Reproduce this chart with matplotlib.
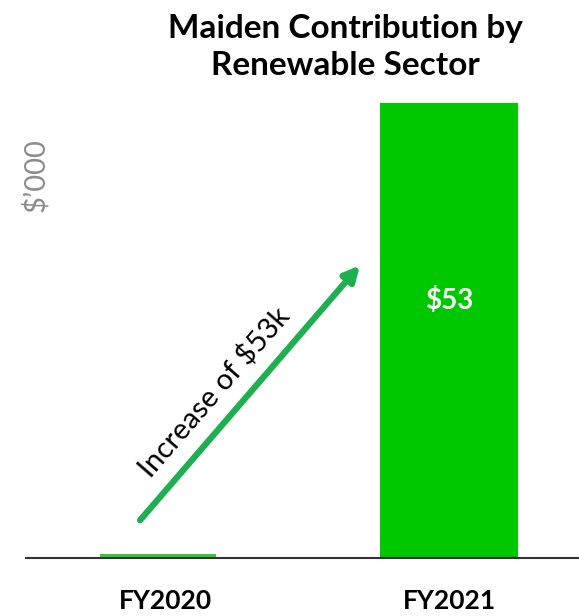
import numpy as np
import matplotlib.pyplot as plt

# data
years = ["FY2020", "FY2021"]
contribution = [0.5, 53]
bar_labels = ["", "$53"]

plt.rcParams['font.family'] = ['Lato', 'DejaVu Sans']

fig = plt.figure(figsize=(5.79, 6.16), dpi=100)
# axes: left edge at 26px, baseline at 558px, 8.585 px per unit
ax = fig.add_axes([26/579, 58/616, 553/579, 515/616])

x = np.arange(len(years))
widths = [0.40, 0.474]
colors = ["#33CC33", "#00C800"]
bars = ax.bar(x, contribution, width=widths, color=colors, zorder=2)

ax.set_xlim(-0.454, 1.447)
ax.set_ylim(0, 60)

for b, lab in zip(bars, bar_labels):
    if lab:
        ax.text(b.get_x() + b.get_width()/2, 30, lab, ha="center", va="center",
                color="white", fontsize=20, fontweight="bold")

# growth arrow
ax.annotate("", xy=(0.694, 34.1), xytext=(-0.062, 4.4),
            arrowprops=dict(arrowstyle="-|>,head_length=0.9,head_width=0.45",
                            color="#1DAF50", lw=4.5, shrinkA=0, shrinkB=0))
ax.text(0.192, 19.3, "Increase of $53k", rotation=49, rotation_mode="anchor",
        ha="center", va="center", fontsize=21, color="black")

for s in ["top", "right", "left"]:
    ax.spines[s].set_visible(False)
ax.spines["bottom"].set_color("#333333")
ax.spines["bottom"].set_linewidth(1.5)
ax.set_yticks([])
# the FY2020 label sits a little right of its bar in the original
ax.set_xticks(x + np.array([0.027, 0]))
ax.set_xticklabels(years, fontsize=19, fontweight="bold")
ax.tick_params(axis="x", length=0, pad=22)

fig.text(35/579, 1 - 175/616, "$\u2019000", rotation=90, ha="center", va="center",
         color="#8C8C8C", fontsize=21)
fig.text(345/579, 1 - 47/616, "Maiden Contribution by\nRenewable Sector", ha="center",
         va="center", fontsize=24, fontweight="bold", linespacing=1.35)

fig.savefig("out.png", dpi=100)
